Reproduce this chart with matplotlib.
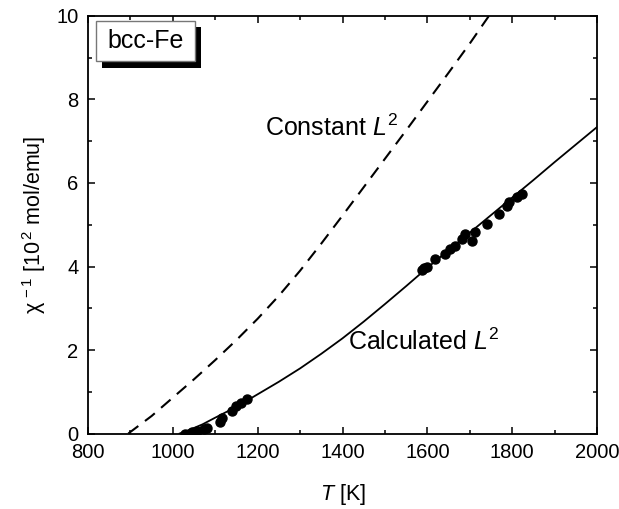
import matplotlib
matplotlib.use("Agg")
import matplotlib.pyplot as plt
from matplotlib.patches import Rectangle

plt.rcParams['font.family'] = ['Liberation Sans', 'DejaVu Sans']
plt.rcParams['mathtext.fontset'] = 'custom'
plt.rcParams['mathtext.rm'] = 'Liberation Sans'
plt.rcParams['mathtext.it'] = 'Liberation Sans:italic'
plt.rcParams['mathtext.bf'] = 'Liberation Sans:bold'

# Measured inverse susceptibility (10^2 mol/emu) vs temperature (K)
meas_T_low = [1029, 1045, 1057, 1073, 1081, 1111, 1115, 1140, 1150, 1160, 1174]
meas_chi_low = [0.00, 0.04, 0.07, 0.10, 0.13, 0.28, 0.37, 0.53, 0.65, 0.72, 0.82]
meas_T_high = [1587, 1593, 1599, 1617, 1641, 1654, 1666, 1682, 1688, 1705,
               1713, 1741, 1769, 1788, 1793, 1812, 1824]
meas_chi_high = [3.91, 3.96, 4.00, 4.19, 4.29, 4.43, 4.50, 4.66, 4.77, 4.62,
                 4.82, 5.02, 5.26, 5.46, 5.54, 5.66, 5.74]

# Model with temperature-dependent local moment
calc_T = [1016, 1040, 1070, 1100, 1150, 1200, 1250, 1300, 1350, 1400, 1450,
          1500, 1550, 1600, 1650, 1700, 1750, 1800, 1850, 1900, 1950, 2000]
calc_chi = [0.00, 0.09, 0.22, 0.38, 0.64, 0.94, 1.24, 1.56, 1.91, 2.28, 2.68,
            3.10, 3.53, 3.97, 4.39, 4.81, 5.23, 5.65, 6.07, 6.50, 6.92, 7.34]

# Model with constant local moment
const_T = [895, 950, 1000, 1050, 1100, 1150, 1200, 1250, 1300, 1350, 1400,
           1450, 1500, 1550, 1600, 1650, 1700, 1745]
const_chi = [0.00, 0.42, 0.86, 1.30, 1.76, 2.24, 2.75, 3.30, 3.90, 4.55, 5.22,
             5.90, 6.58, 7.26, 7.95, 8.64, 9.34, 10.00]

x_ticks = [800, 1000, 1200, 1400, 1600, 1800, 2000]
y_ticks = [0, 2, 4, 6, 8, 10]

fig = plt.figure(figsize=(6.19, 5.09), dpi=100)
ax = fig.add_axes([0.1422, 0.1483, 0.8223, 0.8203])

ax.plot(const_T, const_chi, color='black', lw=1.5, dashes=(6, 4))
ax.plot(calc_T, calc_chi, color='black', lw=1.3)
ax.plot(meas_T_low, meas_chi_low, 'o', color='black', ms=6.5, mec='black')
ax.plot(meas_T_high, meas_chi_high, 'o', color='black', ms=6.5, mec='black')

ax.set_xlim(800, 2000)
ax.set_ylim(0, 10)
ax.set_xticks(x_ticks)
ax.set_yticks(y_ticks)
ax.set_xticks(range(900, 2000, 200), minor=True)
ax.set_yticks(range(1, 10, 2), minor=True)

ax.tick_params(which='both', direction='in', top=True, right=True,
               labelsize=14.5, width=1.1, pad=7)
ax.tick_params(which='major', length=5.2)
ax.tick_params(which='minor', length=3.0)
for s in ax.spines.values():
    s.set_linewidth(1.3)

ax.set_xlabel(r'$T$ [K]', fontsize=15.5, labelpad=14)
ax.set_ylabel(r'χ$^{\,-1}$ [10$^{\,2}$ mol/emu]', fontsize=15.5, labelpad=6)

ax.text(1217, 7.12, r'Constant $L^{2}$', fontsize=18, ha='left', va='baseline')
ax.text(1414, 2.0, r'Calculated $L^{2}$', fontsize=18, ha='left', va='baseline')

# Label box with drop shadow
ax.add_patch(Rectangle((0.0267, 0.8762), 0.1953, 0.0982, transform=ax.transAxes,
                       facecolor='black', edgecolor='none', zorder=5))
ax.add_patch(Rectangle((0.0157, 0.8930), 0.1945, 0.0957, transform=ax.transAxes,
                       facecolor='white', edgecolor='#777777', lw=1.0, zorder=6))
ax.text(0.113, 0.9407, 'bcc-Fe', transform=ax.transAxes, fontsize=18,
        ha='center', va='center', zorder=7)

fig.savefig('out.png', dpi=100)
